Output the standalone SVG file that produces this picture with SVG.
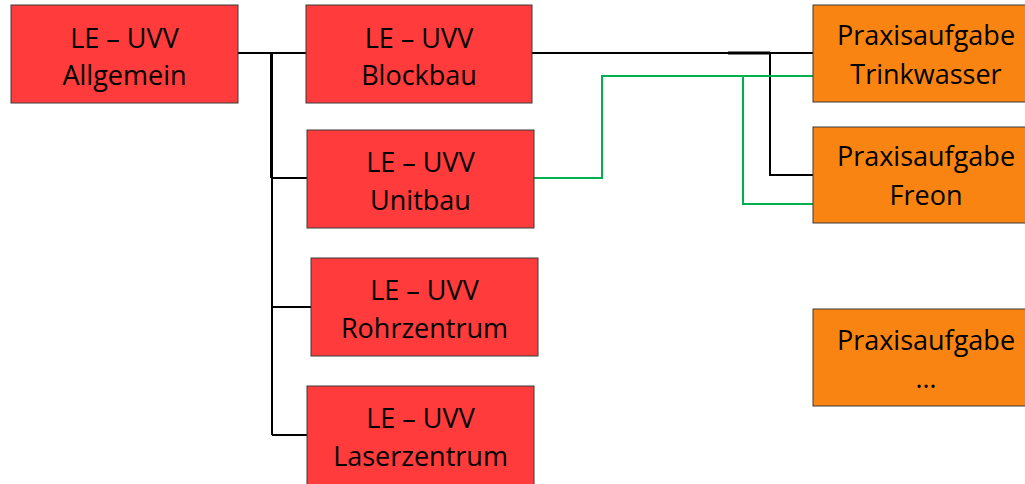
<svg xmlns="http://www.w3.org/2000/svg" width="1025" height="484" viewBox="0 0 1025 484">
<style>
.red{fill:#FF3B3B;stroke:#3a3a3a;stroke-width:1}
.org{fill:#FA8411;stroke:#3a3a3a;stroke-width:1}
text{font-family:"Open Sans","Liberation Sans",sans-serif;font-size:27px;fill:#000;text-anchor:middle}
.k{stroke:#000;stroke-width:2;fill:none}
.g{stroke:#00B050;stroke-width:2;fill:none}
</style>
<rect width="1025" height="484" fill="#fff"/>
<g id="connectors">
<path class="k" d="M238 53H306M272 53V435M272 178H307M272 307H311M272 435H307"/>
<path class="k" d="M271.5 53V178" style="stroke-width:3"/>
<path class="k" d="M532 53H813M770 53V175H813"/>
<path class="k" d="M728 53H770" style="stroke-width:3"/>
<path class="g" d="M534 178H602V76H813M743 76V204H813"/>
</g>
<g id="allgemein"><rect class="red" x="11" y="5" width="227" height="98"/><text x="124.5" y="48">LE – UVV</text><text x="124.5" y="85">Allgemein</text></g>
<g id="blockbau"><rect class="red" x="306" y="5" width="226" height="98"/><text x="419" y="48">LE – UVV</text><text x="419" y="85">Blockbau</text></g>
<g id="unitbau"><rect class="red" x="307" y="130" width="227" height="98"/><text x="420.5" y="172">LE – UVV</text><text x="420.5" y="210">Unitbau</text></g>
<g id="rohrzentrum"><rect class="red" x="311" y="258" width="227" height="98"/><text x="424.5" y="300">LE – UVV</text><text x="424.5" y="338">Rohrzentrum</text></g>
<g id="laserzentrum"><rect class="red" x="307" y="386" width="227" height="110"/><text x="420.5" y="428">LE – UVV</text><text x="420.5" y="466">Laserzentrum</text></g>
<g id="trinkwasser"><rect class="org" x="813" y="5" width="226" height="97"/><text x="926" y="45">Praxisaufgabe</text><text x="926" y="84">Trinkwasser</text></g>
<g id="freon"><rect class="org" x="813" y="127" width="226" height="96"/><text x="926" y="166">Praxisaufgabe</text><text x="926" y="205">Freon</text></g>
<g id="weitere"><rect class="org" x="813" y="309" width="226" height="97"/><text x="926" y="350">Praxisaufgabe</text><text x="926" y="388">…</text></g>
</svg>
